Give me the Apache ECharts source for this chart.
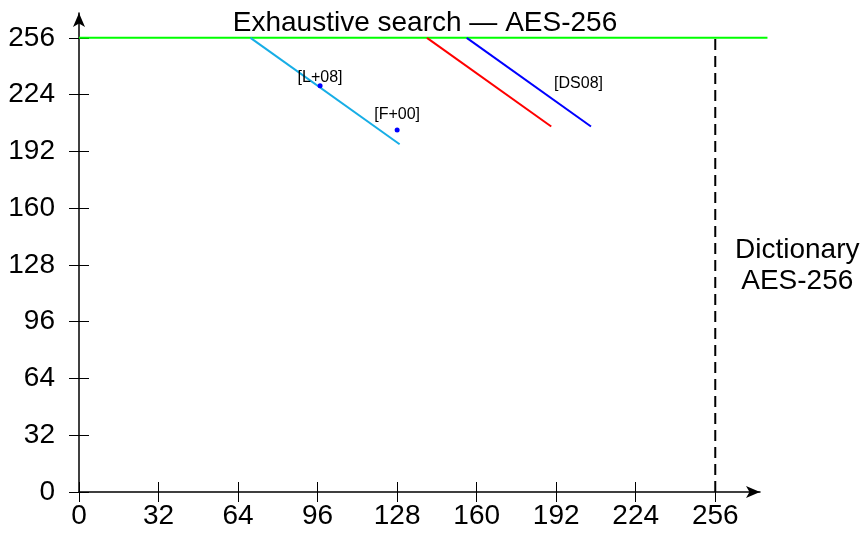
<!DOCTYPE html>
<html>
<head>
<meta charset="utf-8">
<script src="https://cdn.jsdelivr.net/npm/echarts@6/dist/echarts.min.js"></script>
<style>
  html, body { margin: 0; padding: 0; background: #fff; }
  #chart { width: 866px; height: 539px; }
</style>
</head>
<body>
<div id="chart"></div>
<script>
// Axis ticks (bits)
const xTicks = [0, 32, 64, 96, 128, 160, 192, 224, 256];
const yTicks = [0, 32, 64, 96, 128, 160, 192, 224, 256];

// Exhaustive key search bound for AES-256
const exhaustiveLine = [[0, 256], [277, 256]];
// Dictionary attack bound for AES-256
const dictionaryLine = [[256, 0], [256, 256]];

// Trade-off curves
const cyanTradeoff = [[69, 256], [129, 196]];
const redTradeoff = [[140, 256], [190, 206]];
const blueTradeoff = [[156, 256], [206, 206]];

// Single published attacks
const attackNames = ['[L+08]', '[F+00]'];
const attackValues = [[97, 229], [128, 204]];
// Reference tag next to the blue curve
const curveTagNames = ['[DS08]'];
const curveTagValues = [[201, 230]];

const FONT = '"Liberation Sans", "DejaVu Sans", sans-serif';

// Per-label nudges so tags sit clear of their dots
const attackLabelOffsets = [[0, 3], [0, -4]];

const chart = echarts.init(document.getElementById('chart'));

function lineSeries(data, color, extra) {
  return Object.assign({
    type: 'line',
    data: data,
    symbol: 'none',
    clip: false,
    silent: true,
    lineStyle: { color: color, width: 2 },
    z: 3
  }, extra || {});
}

// Polyline drawn through the axes' scales without clipping to the grid
function unclippedLine(data, color, width) {
  return {
    type: 'custom',
    coordinateSystem: 'cartesian2d',
    clip: false,
    silent: true,
    z: 3,
    data: [0],
    renderItem: function (params, api) {
      const pts = data.map(function (p) { return api.coord(p); });
      return {
        type: 'polyline',
        shape: { points: pts },
        style: { stroke: color, lineWidth: width, fill: null }
      };
    }
  };
}

const textLabel = {
  fontFamily: FONT,
  fontSize: 16,
  color: '#000',
  textBorderWidth: 0,
  formatter: '{b}'
};

chart.setOption({
  animation: false,
  backgroundColor: '#ffffff',
  title: {
    text: 'Exhaustive search — AES-256',
    left: 420,
    top: 4,
    textAlign: 'center',
    textStyle: { fontFamily: FONT, fontSize: 28, fontWeight: 'normal', color: '#000' }
  },
  grid: { left: 79, right: 106, top: 13, bottom: 47 },
  xAxis: [
    {
      type: 'value', min: 0, max: 274, interval: 32, position: 'bottom',
      axisLine: { show: true, lineStyle: { color: '#000', width: 1.5 }, symbol: ['none', 'arrow'], symbolSize: [9, 14] },
      axisTick: { show: true, length: 10, lineStyle: { color: '#000', width: 1 }, customValues: xTicks },
      axisLabel: { margin: 10, color: '#000', fontFamily: FONT, fontSize: 28, customValues: xTicks, showMaxLabel: true },
      splitLine: { show: false }
    },
    {
      type: 'value', min: 0, max: 274, interval: 32, position: 'bottom',
      axisLine: { show: false },
      axisTick: { show: true, inside: true, length: 10, lineStyle: { color: '#000', width: 1 }, customValues: xTicks },
      axisLabel: { show: false },
      splitLine: { show: false }
    }
  ],
  yAxis: [
    {
      type: 'value', min: 0, max: 270, interval: 32, position: 'left',
      axisLine: { show: true, lineStyle: { color: '#000', width: 1.5 }, symbol: ['none', 'arrow'], symbolSize: [9, 14] },
      axisTick: { show: true, length: 10, lineStyle: { color: '#000', width: 1 }, customValues: yTicks },
      axisLabel: { margin: 24, color: '#000', fontFamily: FONT, fontSize: 28, customValues: yTicks },
      splitLine: { show: false }
    },
    {
      type: 'value', min: 0, max: 270, interval: 32, position: 'left',
      axisLine: { show: false },
      axisTick: { show: true, inside: true, length: 10, lineStyle: { color: '#000', width: 1 }, customValues: yTicks },
      axisLabel: { show: false },
      splitLine: { show: false }
    }
  ],
  series: [
    unclippedLine(exhaustiveLine, '#00ff00', 2),
    lineSeries(dictionaryLine, '#000000', {
      lineStyle: { color: '#000', width: 2, type: [11, 6] }
    }),
    lineSeries(cyanTradeoff, '#17aee6'),
    lineSeries(redTradeoff, '#ff0000'),
    lineSeries(blueTradeoff, '#0000ff'),
    {
      type: 'scatter',
      data: attackValues.map(function (v, i) {
        return { name: attackNames[i], value: v, label: { offset: attackLabelOffsets[i] } };
      }),
      symbol: 'circle',
      symbolSize: 5,
      itemStyle: { color: '#0000ff', opacity: 1 },
      silent: true,
      z: 4,
      label: Object.assign({ show: true, position: 'top', distance: 1 }, textLabel)
    },
    {
      type: 'scatter',
      data: curveTagValues.map(function (v, i) { return { name: curveTagNames[i], value: v }; }),
      symbolSize: 0,
      itemStyle: { opacity: 1 },
      silent: true,
      label: Object.assign({ show: true, position: 'inside', align: 'center', verticalAlign: 'middle' }, textLabel)
    },
    {
      type: 'scatter',
      data: [{ name: 'Dictionary\nAES-256', value: [256, 128] }],
      symbolSize: 0,
      itemStyle: { opacity: 1 },
      silent: true,
      label: {
        show: true,
        position: 'inside',
        align: 'center',
        verticalAlign: 'middle',
        offset: [82, 1],
        formatter: '{b}',
        fontFamily: FONT,
        fontSize: 28,
        lineHeight: 31,
        color: '#000',
        textBorderWidth: 0
      }
    }
  ]
});
</script>
</body>
</html>
